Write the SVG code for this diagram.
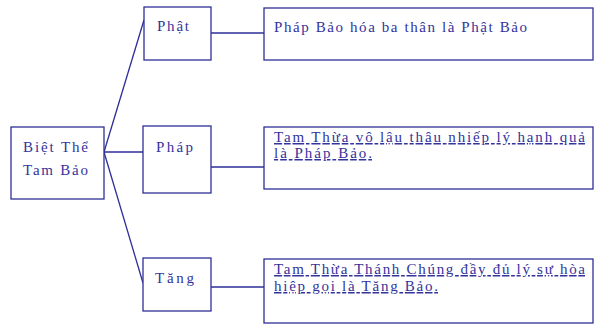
<svg xmlns="http://www.w3.org/2000/svg" width="594" height="326" viewBox="0 0 594 326">
<style>
.box{fill:#fff;stroke:#2e2e98;stroke-width:1.3}
.ln{stroke:#2e2e98;stroke-width:1.3;fill:none}
text{font-family:"Liberation Serif","DejaVu Serif",serif;font-size:15px;fill:#33339c}
.u{text-decoration:underline wavy #6a6ab8}
</style>
<rect width="594" height="326" fill="#fff"/>
<g id="connectors">
<line class="ln" x1="104" y1="152" x2="144" y2="20"/>
<line class="ln" x1="104" y1="152" x2="143" y2="152"/>
<line class="ln" x1="104" y1="152" x2="143" y2="283"/>
<line class="ln" x1="211" y1="33" x2="264" y2="33"/>
<line class="ln" x1="211" y1="167" x2="264" y2="167"/>
<line class="ln" x1="211" y1="287" x2="264" y2="287"/>
</g>
<g id="root">
<rect class="box" x="11" y="127" width="93" height="72"/>
<text x="23" y="152" textLength="65" lengthAdjust="spacing">Biệt Thể</text>
<text x="23" y="175" textLength="65" lengthAdjust="spacing">Tam Bảo</text>
</g>
<g id="phat">
<rect class="box" x="144" y="7" width="67" height="53"/>
<text x="157" y="31" textLength="32" lengthAdjust="spacing">Phật</text>
</g>
<g id="phap">
<rect class="box" x="143" y="126" width="68" height="67"/>
<text x="156" y="152" textLength="37" lengthAdjust="spacing">Pháp</text>
</g>
<g id="tang">
<rect class="box" x="143" y="258" width="68" height="53"/>
<text x="155" y="283" textLength="39" lengthAdjust="spacing">Tăng</text>
</g>
<g id="phat-desc">
<rect class="box" x="264" y="8" width="329" height="52"/>
<text x="274" y="32" textLength="253" lengthAdjust="spacing">Pháp Bảo hóa ba thân là Phật Bảo</text>
</g>
<g id="phap-desc">
<rect class="box" x="264" y="127" width="329" height="62"/>
<text class="u" x="274" y="142" textLength="311" lengthAdjust="spacing">Tam Thừa vô lậu thâu nhiếp lý hạnh quả</text>
<text class="u" x="274" y="158" textLength="98" lengthAdjust="spacing">là Pháp Bảo.</text>
</g>
<g id="tang-desc">
<rect class="box" x="264" y="259" width="329" height="64"/>
<text class="u" x="274" y="274" textLength="311" lengthAdjust="spacing">Tam Thừa Thánh Chúng đầy đủ lý sự hòa</text>
<text class="u" x="274" y="291" textLength="164" lengthAdjust="spacing">hiệp gọi là Tăng Bảo.</text>
</g>
</svg>
